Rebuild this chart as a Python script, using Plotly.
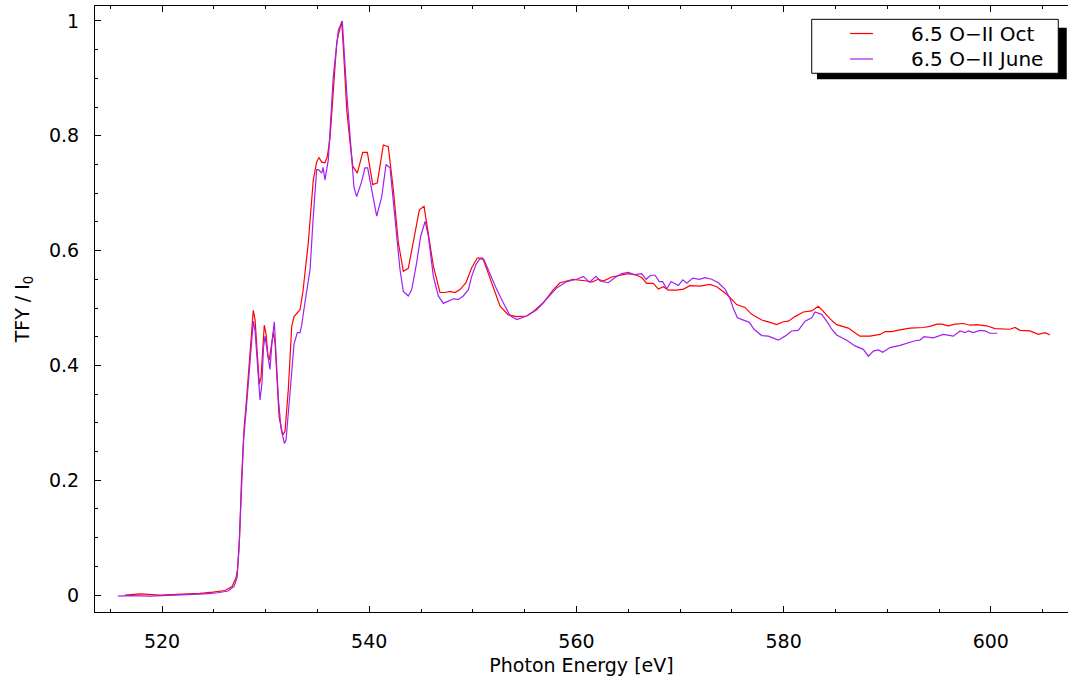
import plotly.graph_objects as go

# 6.5 O-II Oct
oct_ev = [516.43, 517.88, 519.81, 521.74, 523.67, 524.92, 526.08, 526.76, 527.14, 527.29,
          527.48, 527.67, 527.92, 528.11, 528.40, 528.64, 528.81, 528.98, 529.17, 529.39,
          529.56, 529.70, 529.87, 530.04, 530.23, 530.36, 530.53, 530.74, 530.91, 531.10,
          531.30, 531.65, 531.87, 532.19, 532.52, 532.74, 532.93, 533.32, 533.61, 534.12,
          534.60, 534.93, 535.15, 535.42, 535.73, 535.96, 536.22, 536.86, 537.02, 537.35,
          537.57, 537.83, 538.15, 538.41, 538.85, 539.37, 539.82, 540.34, 540.78, 541.36,
          541.84, 542.33, 542.81, 543.29, 543.77, 544.26, 544.84, 545.29, 545.71, 546.19,
          546.83, 547.32, 547.80, 548.28, 548.76, 549.34, 549.89, 550.43, 550.96, 551.50,
          552.14, 552.63, 553.43, 554.24, 555.20, 555.84, 556.81, 557.77, 558.42, 559.70,
          560.99, 561.48, 562.11, 562.60, 563.41, 564.21, 565.01, 565.82, 566.30, 566.79,
          567.42, 567.91, 568.39, 568.87, 569.68, 570.32, 570.97, 571.93, 572.90, 573.54,
          574.51, 575.47, 576.27, 576.92, 577.89, 578.69, 579.33, 579.97, 580.46, 581.10,
          581.90, 582.71, 583.35, 583.83, 584.48, 585.12, 585.76, 586.25, 586.89, 587.37,
          588.34, 589.31, 589.79, 590.43, 591.24, 592.20, 593.48, 594.13, 594.78, 595.26,
          595.90, 596.55, 597.35, 597.99, 598.64, 599.60, 600.41, 601.21, 601.85, 602.34,
          602.82, 603.78, 604.59, 605.23, 605.71]
oct_tfy = [0.000, 0.002, 0.000, 0.001, 0.003, 0.005, 0.008, 0.015, 0.030, 0.045,
           0.100, 0.200, 0.290, 0.330, 0.400, 0.460, 0.496, 0.480, 0.420, 0.367,
           0.380, 0.430, 0.470, 0.455, 0.415, 0.410, 0.430, 0.457, 0.440, 0.370,
           0.310, 0.279, 0.285, 0.358, 0.468, 0.485, 0.489, 0.497, 0.530, 0.614,
           0.723, 0.755, 0.762, 0.754, 0.753, 0.764, 0.797, 0.962, 0.976, 0.999,
           0.932, 0.845, 0.788, 0.747, 0.735, 0.771, 0.771, 0.715, 0.718, 0.784,
           0.781, 0.706, 0.614, 0.564, 0.569, 0.614, 0.671, 0.677, 0.631, 0.573,
           0.527, 0.527, 0.529, 0.527, 0.532, 0.544, 0.570, 0.587, 0.587, 0.561,
           0.527, 0.503, 0.488, 0.485, 0.486, 0.494, 0.509, 0.532, 0.544, 0.550,
           0.547, 0.545, 0.550, 0.547, 0.554, 0.557, 0.560, 0.557, 0.553, 0.543,
           0.543, 0.533, 0.537, 0.531, 0.531, 0.533, 0.539, 0.538, 0.541, 0.537,
           0.524, 0.506, 0.501, 0.489, 0.479, 0.475, 0.471, 0.476, 0.477, 0.485,
           0.493, 0.495, 0.503, 0.494, 0.481, 0.471, 0.468, 0.465, 0.457, 0.451,
           0.451, 0.454, 0.459, 0.459, 0.462, 0.465, 0.466, 0.468, 0.472, 0.472,
           0.469, 0.472, 0.473, 0.470, 0.471, 0.469, 0.464, 0.463, 0.463, 0.466,
           0.461, 0.460, 0.454, 0.457, 0.453]

# 6.5 O-II June
june_ev = [515.75, 516.91, 518.84, 520.77, 522.70, 524.15, 525.41, 526.37, 526.95, 527.24,
           527.43, 527.63, 527.87, 528.11, 528.40, 528.64, 528.81, 528.98, 529.22, 529.46,
           529.65, 529.79, 529.94, 530.13, 530.42, 530.61, 530.84, 531.00, 531.24, 531.49,
           531.81, 531.97, 532.19, 532.52, 532.74, 533.06, 533.32, 533.48, 533.80, 534.29,
           534.60, 534.77, 534.93, 535.09, 535.42, 535.55, 535.73, 536.05, 536.53, 537.02,
           537.40, 537.83, 538.31, 538.53, 538.79, 539.28, 539.59, 539.85, 540.24, 540.72,
           541.21, 541.62, 542.01, 542.49, 542.97, 543.29, 543.77, 544.10, 544.58, 544.97,
           545.39, 545.71, 546.19, 546.67, 547.15, 547.64, 548.12, 548.60, 549.08, 549.57,
           549.89, 550.31, 550.69, 551.08, 551.66, 552.31, 552.94, 553.59, 554.24, 555.20,
           556.17, 557.13, 558.10, 559.06, 560.03, 560.67, 561.25, 561.89, 562.28, 563.08,
           563.73, 564.37, 565.01, 565.66, 566.30, 566.72, 567.17, 567.59, 568.00, 568.33,
           568.72, 569.13, 569.84, 570.26, 570.65, 571.23, 571.87, 572.41, 573.06, 573.70,
           574.34, 574.83, 575.15, 575.54, 576.18, 576.69, 577.14, 577.89, 578.53, 579.49,
           580.14, 580.78, 581.42, 582.07, 582.71, 583.03, 583.67, 584.16, 584.64, 585.12,
           586.09, 586.89, 587.69, 588.18, 588.66, 589.14, 589.57, 590.27, 591.24, 592.04,
           592.68, 593.16, 593.55, 594.45, 595.42, 596.38, 597.03, 597.51, 597.83, 598.31,
           598.96, 599.44, 599.92, 600.63]
june_tfy = [-0.002, -0.001, -0.002, -0.001, 0.000, 0.002, 0.004, 0.007, 0.015, 0.030,
            0.080, 0.180, 0.270, 0.320, 0.390, 0.450, 0.477, 0.460, 0.390, 0.340,
            0.370, 0.430, 0.451, 0.430, 0.393, 0.440, 0.476, 0.420, 0.340, 0.290,
            0.264, 0.270, 0.312, 0.388, 0.437, 0.457, 0.457, 0.470, 0.510, 0.567,
            0.660, 0.703, 0.741, 0.741, 0.735, 0.745, 0.723, 0.758, 0.903, 0.984,
            1.000, 0.875, 0.764, 0.710, 0.694, 0.721, 0.744, 0.744, 0.706, 0.660,
            0.694, 0.750, 0.744, 0.660, 0.567, 0.529, 0.521, 0.532, 0.579, 0.625,
            0.651, 0.625, 0.555, 0.521, 0.508, 0.512, 0.516, 0.515, 0.521, 0.532,
            0.555, 0.576, 0.586, 0.584, 0.558, 0.532, 0.509, 0.487, 0.480, 0.486,
            0.497, 0.515, 0.535, 0.546, 0.550, 0.555, 0.545, 0.555, 0.547, 0.544,
            0.553, 0.560, 0.562, 0.558, 0.560, 0.550, 0.557, 0.557, 0.546, 0.546,
            0.533, 0.546, 0.539, 0.549, 0.543, 0.552, 0.550, 0.553, 0.550, 0.544,
            0.533, 0.516, 0.499, 0.483, 0.478, 0.475, 0.463, 0.452, 0.451, 0.444,
            0.451, 0.460, 0.461, 0.477, 0.483, 0.493, 0.489, 0.477, 0.463, 0.453,
            0.444, 0.434, 0.428, 0.416, 0.425, 0.427, 0.423, 0.431, 0.435, 0.440,
            0.443, 0.444, 0.450, 0.448, 0.454, 0.451, 0.460, 0.457, 0.460, 0.457,
            0.461, 0.460, 0.456, 0.456]

series = [
    ("6.5 O\u2212II Oct", oct_ev, oct_tfy, "#ff0000"),
    ("6.5 O\u2212II June", june_ev, june_tfy, "#a020f0"),
]

FONT = "DejaVu Sans"

fig = go.Figure()
for name, x, y, colour in series:
    fig.add_trace(go.Scatter(
        x=x, y=y, mode="lines", name=name,
        line=dict(color=colour, width=1.2),
        showlegend=False,
    ))

# hand-drawn legend box with drop shadow (gnuplot style)
fig.add_shape(type="rect", xref="paper", yref="paper",
              x0=0.742, x1=0.9987, y0=0.879, y1=0.964,
              fillcolor="black", line_width=0, layer="above")
fig.add_shape(type="rect", xref="paper", yref="paper",
              x0=0.7366, x1=0.990, y0=0.889, y1=0.978,
              fillcolor="white", line=dict(color="black", width=1), layer="above")
for (name, _, _, colour), ly in zip(series, [0.9546, 0.9125]):
    fig.add_shape(type="line", xref="paper", yref="paper",
                  x0=0.776, x1=0.7996, y0=ly, y1=ly,
                  line=dict(color=colour, width=1.2), layer="above")
    fig.add_annotation(text=name, xref="paper", yref="paper",
                       x=0.8367, y=ly, xanchor="left", yanchor="middle",
                       showarrow=False, font=dict(family=FONT, size=20, color="black"))

axis_common = dict(
    showline=True, linecolor="black", linewidth=1,
    ticks="inside", ticklen=6, tickcolor="black",
    showgrid=False, zeroline=False, automargin=False,
    tickfont=dict(family=FONT, size=19, color="black"),
)
fig.update_xaxes(
    range=[513.53, 607.45], tick0=520, dtick=20, mirror="ticks",
    minor=dict(dtick=5, ticks="inside", ticklen=3, tickcolor="black"),
    title=dict(text="Photon Energy [eV]", font=dict(family=FONT, size=19, color="black"), standoff=7),
    ticklabelstandoff=12,
    **axis_common,
)
fig.update_yaxes(
    range=[-0.0295, 1.026], tick0=0, dtick=0.2, tickformat="~g",
    minor=dict(dtick=0.05, ticks="inside", ticklen=3, tickcolor="black"),
    title=dict(text="TFY / I<sub>0</sub>", font=dict(family=FONT, size=19, color="black"), standoff=14),
    ticklabelstandoff=11,
    **axis_common,
)
fig.update_layout(
    width=1068, height=683,
    margin=dict(l=95, r=0, t=6, b=71),
    paper_bgcolor="white", plot_bgcolor="white",
    font=dict(family=FONT, size=19, color="black"),
)

# the page's default body margin would push the figure 8px off the window
fig.write_html("out.html", config={"displayModeBar": False},
               post_script="document.body.style.margin='0';")
